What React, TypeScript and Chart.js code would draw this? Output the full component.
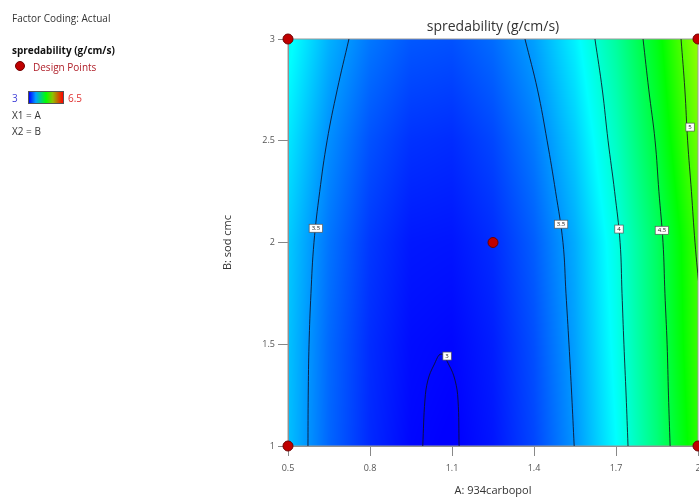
import React, { useEffect, useRef } from "react";
import { Chart, registerables } from "chart.js";

Chart.register(...registerables);

// ---- Data ----
const A_GRID = [0.5, 0.65, 0.8, 0.95, 1.1, 1.25, 1.4, 1.55, 1.7, 1.85, 2.0];
const B_GRID = [1, 1.5, 2, 2.5, 3];
const SPREAD_B1 = [3.66, 3.35, 3.14, 3.02, 2.99, 3.07, 3.24, 3.51, 3.87, 4.33, 4.89];
const SPREAD_B15 = [3.67, 3.36, 3.15, 3.04, 3.02, 3.1, 3.27, 3.55, 3.92, 4.39, 4.95];
const SPREAD_B2 = [3.7, 3.4, 3.19, 3.08, 3.07, 3.15, 3.32, 3.59, 3.96, 4.42, 4.98];
const SPREAD_B25 = [3.8, 3.49, 3.28, 3.17, 3.15, 3.24, 3.42, 3.7, 4.08, 4.56, 5.13];
const SPREAD_B3 = [3.92, 3.61, 3.41, 3.3, 3.28, 3.37, 3.55, 3.83, 4.21, 4.68, 5.26];
const SURFACE = [SPREAD_B1, SPREAD_B15, SPREAD_B2, SPREAD_B25, SPREAD_B3];

const COLOR_MIN = 3;
const COLOR_MAX = 6.5;

const X_TICKS = [0.5, 0.8, 1.1, 1.4, 1.7, 2];
const Y_TICKS = [1, 1.5, 2, 2.5, 3];

const DESIGN_A = [0.5, 0.5, 2, 2, 1.25];
const DESIGN_B = [1, 3, 1, 3, 2];

// contour lines as [A, B] pairs
const CONTOUR_3: number[][] = [
  [0.993, 1], [1.001, 1.226], [1.012, 1.324], [1.034, 1.398], [1.06, 1.452],
  [1.089, 1.398], [1.111, 1.324], [1.122, 1.226], [1.126, 1],
];
const CONTOUR_35_LEFT: number[][] = [
  [0.723, 3], [0.68, 2.75], [0.643, 2.5], [0.616, 2.25], [0.595, 2],
  [0.584, 1.75], [0.577, 1.5], [0.574, 1.25], [0.573, 1],
];
const CONTOUR_35_RIGHT: number[][] = [
  [1.367, 3], [1.413, 2.75], [1.448, 2.5], [1.479, 2.25], [1.506, 2],
  [1.517, 1.75], [1.528, 1.5], [1.538, 1.25], [1.547, 1],
];
const CONTOUR_4: number[][] = [
  [1.623, 3], [1.65, 2.75], [1.671, 2.5], [1.695, 2.25], [1.715, 2],
  [1.722, 1.75], [1.729, 1.5], [1.737, 1.25], [1.744, 1],
];
const CONTOUR_45: number[][] = [
  [1.799, 3], [1.82, 2.75], [1.843, 2.5], [1.857, 2.25], [1.872, 2],
  [1.879, 1.75], [1.887, 1.5], [1.892, 1.25], [1.898, 1],
];
const CONTOUR_5: number[][] = [
  [1.938, 3], [1.952, 2.75], [1.962, 2.5], [1.976, 2.25], [1.989, 2], [2.006, 1.75],
];
const CONTOURS = [CONTOUR_3, CONTOUR_35_LEFT, CONTOUR_35_RIGHT, CONTOUR_4, CONTOUR_45, CONTOUR_5];

const LABEL_TEXT = ["3", "3.5", "3.5", "4", "4.5", "5"];
const LABEL_A = [1.082, 0.602, 1.499, 1.711, 1.868, 1.971];
const LABEL_B = [1.442, 2.07, 2.09, 2.066, 2.06, 2.567];

// ---- helpers ----
const STOPS: [number, number[]][] = [
  [0, [0, 0, 255]],
  [0.25, [0, 255, 255]],
  [0.5, [0, 255, 0]],
  [0.75, [255, 255, 0]],
  [1, [255, 0, 0]],
];

function colorFor(v: number): number[] {
  let t = (v - COLOR_MIN) / (COLOR_MAX - COLOR_MIN);
  t = Math.max(0, Math.min(1, t));
  for (let i = 0; i < STOPS.length - 1; i++) {
    const [t0, c0] = STOPS[i];
    const [t1, c1] = STOPS[i + 1];
    if (t <= t1) {
      const f = (t - t0) / (t1 - t0);
      return [0, 1, 2].map((k) => Math.round(c0[k] + (c1[k] - c0[k]) * f));
    }
  }
  return STOPS[STOPS.length - 1][1];
}

function locate(arr: number[], v: number): [number, number] {
  if (v <= arr[0]) return [0, 0];
  for (let i = 0; i < arr.length - 1; i++) {
    if (v <= arr[i + 1]) return [i, (v - arr[i]) / (arr[i + 1] - arr[i])];
  }
  return [arr.length - 2, 1];
}

function surfaceAt(a: number, b: number): number {
  const [i, fx] = locate(A_GRID, a);
  const [j, fy] = locate(B_GRID, b);
  const r0 = SURFACE[j];
  const r1 = SURFACE[j + 1];
  const v0 = r0[i] + (r0[i + 1] - r0[i]) * fx;
  const v1 = r1[i] + (r1[i + 1] - r1[i]) * fx;
  return v0 + (v1 - v0) * fy;
}

const FONT = '"Open Sans", "Noto Sans", sans-serif';

const heatmapPlugin = {
  id: "heatmap",
  beforeDraw(chart: any) {
    const { ctx, chartArea, scales } = chart;
    const xs = scales.x;
    const ys = scales.y;
    const left = Math.floor(chartArea.left);
    const top = Math.floor(chartArea.top);
    const w = Math.ceil(chartArea.right) - left;
    const h = Math.ceil(chartArea.bottom) - top;
    const off = document.createElement("canvas");
    off.width = w;
    off.height = h;
    const octx = off.getContext("2d")!;
    const img = octx.createImageData(w, h);
    for (let j = 0; j < h; j++) {
      const b = ys.getValueForPixel(top + j + 0.5);
      for (let i = 0; i < w; i++) {
        const a = xs.getValueForPixel(left + i + 0.5);
        const c = colorFor(surfaceAt(a, b));
        const p = (j * w + i) * 4;
        img.data[p] = c[0];
        img.data[p + 1] = c[1];
        img.data[p + 2] = c[2];
        img.data[p + 3] = 255;
      }
    }
    octx.putImageData(img, 0, 0);
    ctx.save();
    ctx.drawImage(off, left, top);
    ctx.restore();
  },
  beforeDatasetsDraw(chart: any) {
    const { ctx, chartArea } = chart;
    ctx.save();
    ctx.strokeStyle = "#9a9a9a";
    ctx.lineWidth = 1;
    ctx.strokeRect(chartArea.left, chartArea.top, chartArea.right - chartArea.left, chartArea.bottom - chartArea.top);
    ctx.restore();
  },
  afterDraw(chart: any) {
    const { ctx, chartArea, scales } = chart;
    ctx.save();
    // chart title
    ctx.fillStyle = "#333";
    ctx.font = `14px ${FONT}`;
    ctx.textAlign = "center";
    ctx.textBaseline = "middle";
    ctx.fillText("spredability (g/cm/s)", (chartArea.left + chartArea.right) / 2, 27);
    // contour labels
    ctx.font = `6px ${FONT}`;
    for (let k = 0; k < LABEL_TEXT.length; k++) {
      const x = scales.x.getPixelForValue(LABEL_A[k]);
      const y = scales.y.getPixelForValue(LABEL_B[k]);
      const tw = ctx.measureText(LABEL_TEXT[k]).width;
      const bw = Math.max(8, tw + 5);
      const bh = 8;
      ctx.fillStyle = "#ffffff";
      ctx.fillRect(x - bw / 2, y - bh / 2, bw, bh);
      ctx.strokeStyle = "#555";
      ctx.lineWidth = 0.7;
      ctx.strokeRect(x - bw / 2, y - bh / 2, bw, bh);
      ctx.fillStyle = "#222";
      ctx.fillText(LABEL_TEXT[k], x, y + 0.5);
    }
    ctx.restore();
  },
};

export default function App() {
  const ref = useRef<HTMLCanvasElement | null>(null);

  useEffect(() => {
    if (!ref.current) return;
    const contourSets = CONTOURS.map((c) => ({
      type: "scatter" as const,
      data: c.map(([a, b]) => ({ x: a, y: b })),
      showLine: true,
      borderColor: "rgba(15,15,35,0.85)",
      borderWidth: 1,
      pointRadius: 0,
      pointHoverRadius: 0,
      tension: 0.4,
      fill: false,
    }));
    const designSet = {
      type: "scatter" as const,
      data: DESIGN_A.map((a, i) => ({ x: a, y: DESIGN_B[i] })),
      showLine: false,
      pointRadius: 5,
      backgroundColor: "#c00000",
      borderColor: "#700000",
      borderWidth: 1,
      clip: false as any,
    };
    const chart = new Chart(ref.current, {
      type: "scatter",
      data: { datasets: [...contourSets, designSet] as any },
      plugins: [heatmapPlugin],
      options: {
        animation: false,
        responsive: false,
        events: [],
        layout: { padding: { left: 221, right: 22, top: 39, bottom: 7 } },
        plugins: { legend: { display: false }, tooltip: { enabled: false }, title: { display: false } },
        scales: {
          x: {
            type: "linear",
            min: 0.5,
            max: 2,
            afterBuildTicks: (s: any) => {
              s.ticks = X_TICKS.map((v) => ({ value: v }));
            },
            afterFit: (s: any) => {
              s.height = 51;
            },
            grid: { drawOnChartArea: false, drawTicks: true, tickLength: 10, color: "#888" },
            border: { display: true, color: "#888" },
            ticks: { color: "#555", font: { size: 9, family: FONT }, padding: 7, maxRotation: 0, autoSkip: false, callback: (v: any) => String(v) },
            title: { display: true, text: "A: 934carbopol", color: "#333", font: { size: 11, family: FONT }, padding: { top: 0, bottom: 0 } },
          },
          y: {
            type: "linear",
            min: 1,
            max: 3,
            afterBuildTicks: (s: any) => {
              s.ticks = Y_TICKS.map((v) => ({ value: v }));
            },
            afterFit: (s: any) => {
              s.width = 67;
            },
            grid: { drawOnChartArea: false, drawTicks: true, tickLength: 10, color: "#888" },
            border: { display: true, color: "#888" },
            ticks: { color: "#555", font: { size: 9, family: FONT }, padding: 3, autoSkip: false, callback: (v: any) => String(v) },
            title: { display: true, text: "B: sod cmc", color: "#333", font: { size: 11, family: FONT }, padding: { top: 0, bottom: 0 } },
          },
        },
      } as any,
    });
    return () => chart.destroy();
  }, []);

  const text = (content: string, left: number, cy: number, style: React.CSSProperties = {}) => (
    <div
      style={{
        position: "absolute",
        left,
        top: cy - 7,
        height: 14,
        lineHeight: "14px",
        fontSize: 10,
        fontFamily: FONT,
        color: "#333",
        whiteSpace: "nowrap",
        ...style,
      }}
    >
      {content}
    </div>
  );

  return (
    <div style={{ position: "fixed", left: 0, top: 0, width: 699, height: 504, overflow: "hidden", background: "#fff" }}>
      <canvas ref={ref} width={720} height={504} style={{ width: 720, height: 504, display: "block" }} />
      {text("Factor Coding: Actual", 12, 18)}
      {text("spredability (g/cm/s)", 12, 50, { fontWeight: "bold", color: "#111" })}
      <div style={{ position: "absolute", left: 15, top: 61, width: 10, height: 10, borderRadius: "50%", background: "#c00000", boxSizing: "border-box", border: "1px solid #700000" }} />
      {text("Design Points", 33, 67, { color: "#b0202a" })}
      {text("3", 12, 98, { color: "#4040d8" })}
      <div
        style={{
          position: "absolute",
          left: 28,
          top: 91,
          width: 36,
          height: 13,
          boxSizing: "border-box",
          border: "1px solid #555",
          background: "linear-gradient(to right, #0000ff, #00a0ff 20%, #00ff00 50%, #90c000 70%, #ff0000)",
        }}
      />
      {text("6.5", 68, 98, { color: "#e03030" })}
      {text("X1 = A", 12, 115)}
      {text("X2 = B", 12, 131)}
    </div>
  );
}
